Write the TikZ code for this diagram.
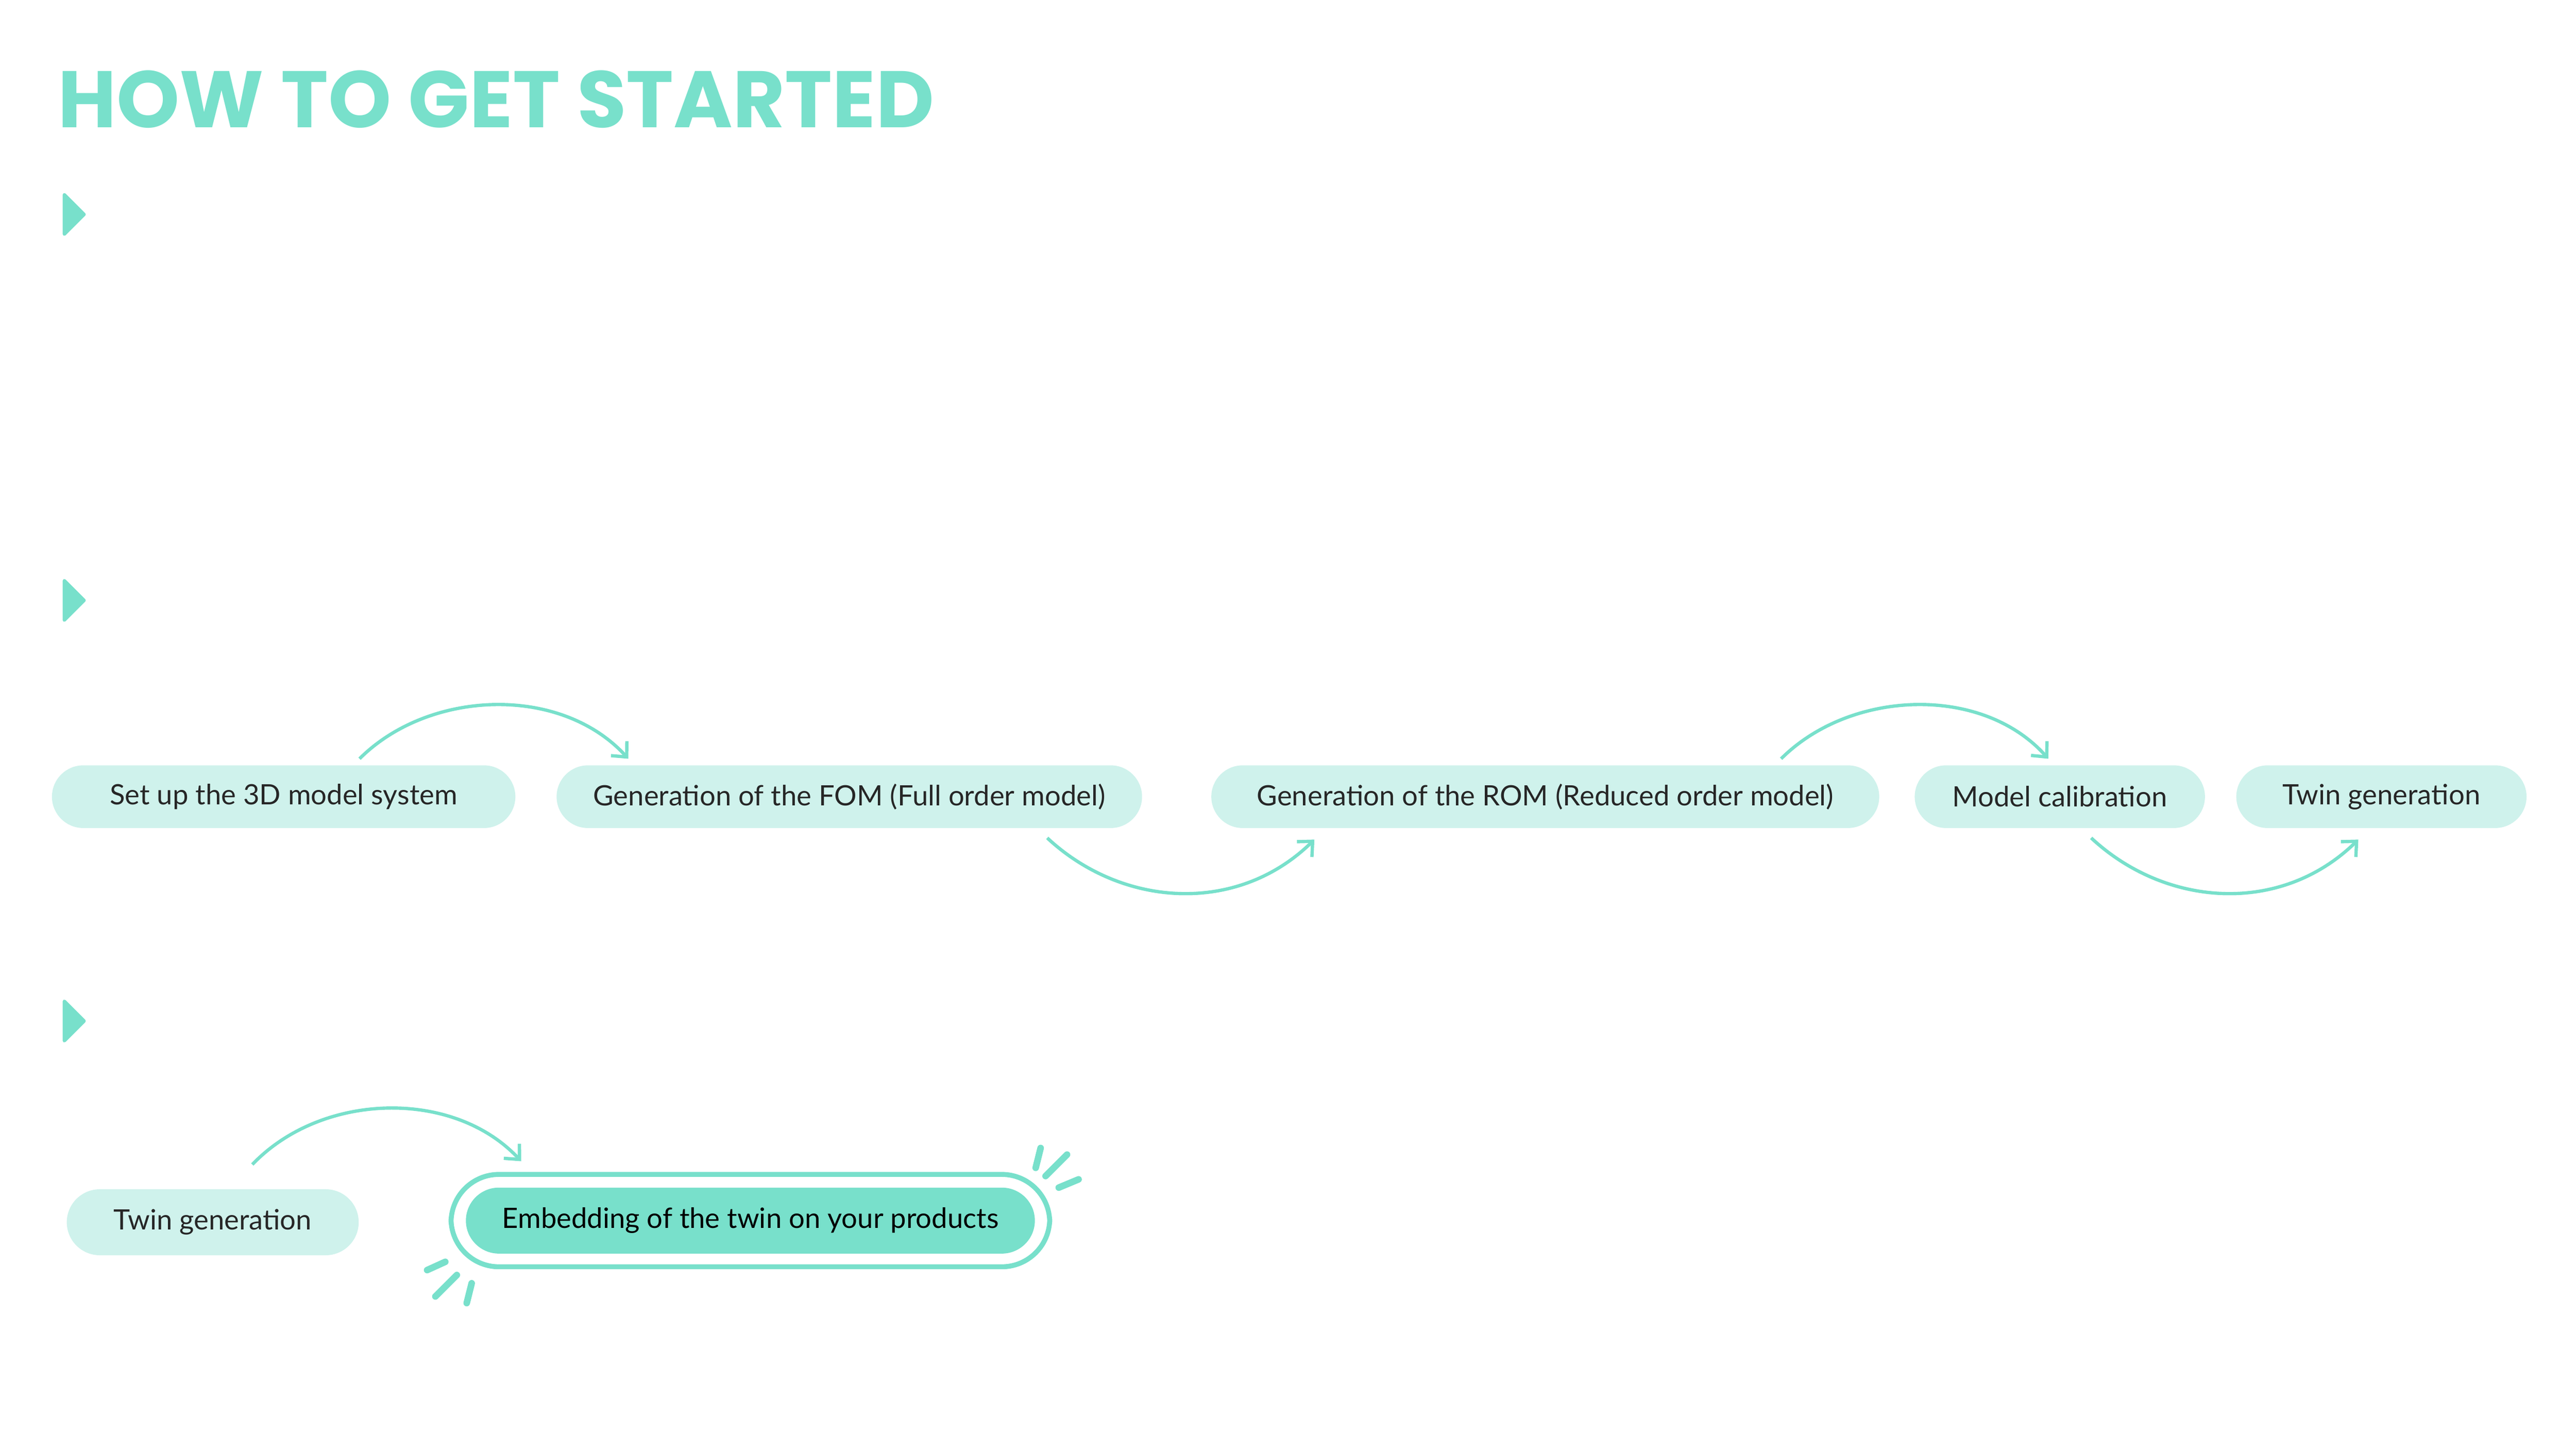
\documentclass[tikz,border=0pt]{standalone}
\usepackage{fontspec}
\setmainfont{Lato}
\newfontfamily\titlefont{Poppins}
\usetikzlibrary{arrows.meta}
\definecolor{teal}{HTML}{78E0CB}
\definecolor{lightteal}{HTML}{CFF2EC}
\begin{document}
\begin{tikzpicture}[x=1pt,y=-1pt,
  pill/.style={fill=lightteal,rounded corners=19pt,minimum height=38pt,inner xsep=14pt,font=\fontsize{17}{20}\selectfont,text=black!85},
  conn/.style={draw=teal,line width=2pt,-{Straight Barb[length=7pt,width=13pt]}},
  spark/.style={draw=teal,line width=4pt,line cap=round},
  tri/.style={fill=teal,draw=teal,line width=2pt,line join=round}]
\useasboundingbox (0,0) rectangle (1562,879);
\node[anchor=south west,inner sep=0pt,text=teal] (title) at (35,78) {\resizebox{531pt}{!}{\titlefont\bfseries HOW TO GET STARTED}};
\foreach \y/\n in {130/t1,364/t2,619/t3}{
  \filldraw[tri] (39,\y-12) -- (51,\y) -- (39,\y+12) -- cycle;
}
\node[pill,minimum width=281pt] (a) at (172,483) {Set up the 3D model system};
\node[pill,minimum width=355pt] (b) at (515,483) {Generation of the FOM (Full order model)};
\node[pill,minimum width=405pt] (c) at (937,483) {Generation of the ROM (Reduced order model)};
\node[pill,minimum width=176pt] (d) at (1249,483) {Model calibration};
\node[pill,minimum width=176pt] (e) at (1444,483) {Twin generation};
\node[pill,minimum width=177pt,minimum height=40pt,rounded corners=20pt] (f) at (129,741) {Twin generation};
\node[draw=teal,line width=3pt,rounded corners=29pt,minimum width=363pt,minimum height=56pt] (gout) at (455,740) {};
\node[pill,fill=teal,minimum width=345pt,minimum height=40pt,rounded corners=20pt,text=black] (g) at (455,740) {Embedding of the twin on your products};
\coordinate (a1) at (218,460); \coordinate (b1) at (381,460);
\coordinate (b2) at (635,508); \coordinate (c2) at (797,509);
\coordinate (c1) at (1080,460); \coordinate (d1) at (1242,460);
\coordinate (d2) at (1268,508); \coordinate (e2) at (1430,509);
\coordinate (f1) at (153,706); \coordinate (g1) at (316,704);
\draw[conn] (a1) .. controls (260,418) and (340,415) .. (b1);
\draw[conn] (b2) .. controls (680,550) and (750,555) .. (c2);
\draw[conn] (c1) .. controls (1122,418) and (1202,415) .. (d1);
\draw[conn] (d2) .. controls (1313,550) and (1383,555) .. (e2);
\draw[conn] (f1) .. controls (195,662) and (275,660) .. (g1);
\draw[spark] (628,708) -- (631,696);
\draw[spark] (634,713) -- (647,700);
\draw[spark] (642,720) -- (654,715);
\draw[spark] (259,770) -- (270,765);
\draw[spark] (264,786) -- (277,773);
\draw[spark] (283,790) -- (286,778);
\end{tikzpicture}
\end{document}
